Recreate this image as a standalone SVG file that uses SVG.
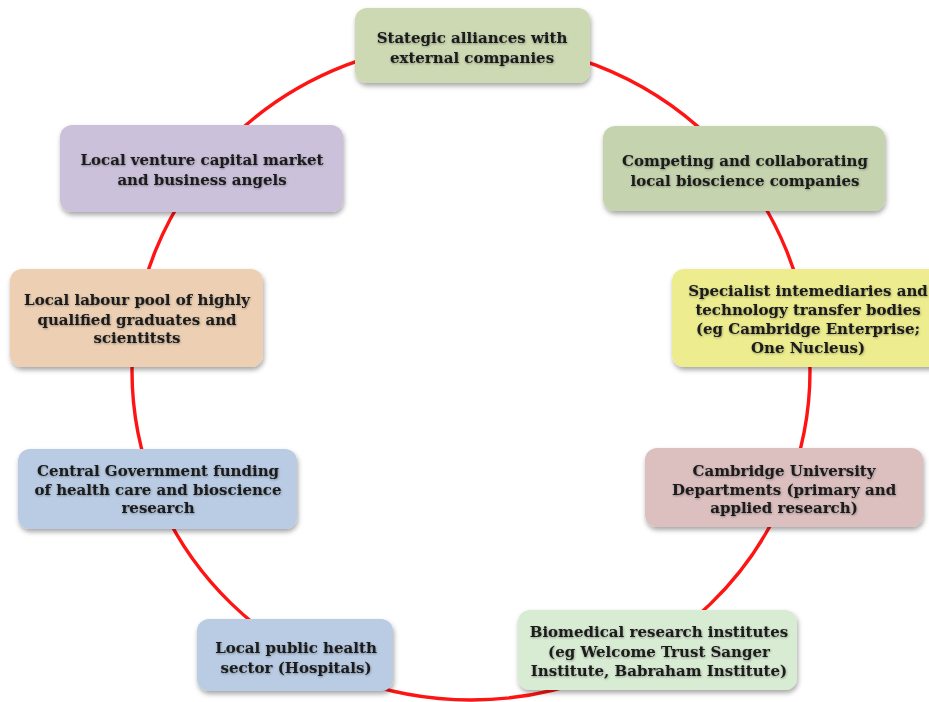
<svg xmlns="http://www.w3.org/2000/svg" width="929" height="702" viewBox="0 0 929 702">
<defs>
<filter id="sh" x="-10%" y="-10%" width="120%" height="130%">
<feDropShadow dx="1" dy="3" stdDeviation="2.5" flood-color="#000" flood-opacity="0.35"/>
</filter>
<filter id="ts" x="-5%" y="-20%" width="110%" height="140%">
<feDropShadow dx="0.5" dy="1" stdDeviation="0.8" flood-color="#000" flood-opacity="0.35"/>
</filter>
</defs>
<style>
.box{stroke:none;filter:url(#sh)}
.t{font-family:"DejaVu Serif","Liberation Serif",serif;font-weight:bold;font-size:15px;fill:#1a1a1a;text-anchor:middle;filter:url(#ts)}
.ring{fill:none;stroke:#ff1414;stroke-width:3.4}
</style>
<rect width="929" height="702" fill="#fff"/>
<g id="connectors">
<ellipse class="ring" cx="471" cy="371" rx="339" ry="329"/>
</g>
<g id="n1">
<rect class="box" x="355" y="8" width="235" height="75" rx="12" fill="#ccd9b3"/>
<text class="t" x="472" y="43">Stategic alliances with</text>
<text class="t" x="472" y="63">external companies</text>
</g>
<g id="n2">
<rect class="box" x="60" y="125" width="283" height="87" rx="12" fill="#ccc1db"/>
<text class="t" x="202" y="165">Local venture capital market</text>
<text class="t" x="202" y="185">and business angels</text>
</g>
<g id="n3">
<rect class="box" x="603" y="126" width="282" height="85" rx="12" fill="#c5d4ae"/>
<text class="t" x="745" y="166">Competing and collaborating</text>
<text class="t" x="745" y="186">local bioscience companies</text>
</g>
<g id="n4">
<rect class="box" x="10" y="269" width="253" height="98" rx="12" fill="#edd0b4"/>
<text class="t" x="137" y="305">Local labour pool of highly</text>
<text class="t" x="137" y="325">qualified graduates and</text>
<text class="t" x="137" y="343">scientitsts</text>
</g>
<g id="n5">
<rect class="box" x="672" y="269" width="272" height="98" rx="12" fill="#eded90"/>
<text class="t" x="808" y="296">Specialist intemediaries and</text>
<text class="t" x="808" y="315">technology transfer bodies</text>
<text class="t" x="808" y="334">(eg Cambridge Enterprise;</text>
<text class="t" x="808" y="353">One Nucleus)</text>
</g>
<g id="n6">
<rect class="box" x="18" y="449" width="279" height="80" rx="12" fill="#b9cce4"/>
<text class="t" x="158" y="476">Central Government funding</text>
<text class="t" x="158" y="495">of health care and bioscience</text>
<text class="t" x="158" y="513">research</text>
</g>
<g id="n7">
<rect class="box" x="645" y="448" width="278" height="79" rx="12" fill="#dcc0c0"/>
<text class="t" x="784" y="476">Cambridge University</text>
<text class="t" x="784" y="495">Departments (primary and</text>
<text class="t" x="784" y="513">applied research)</text>
</g>
<g id="n8">
<rect class="box" x="197" y="619" width="196" height="72" rx="12" fill="#b9cce4"/>
<text class="t" x="296" y="653">Local public health</text>
<text class="t" x="296" y="673">sector (Hospitals)</text>
</g>
<g id="n9">
<rect class="box" x="518" y="610" width="279" height="80" rx="12" fill="#d8ebd3"/>
<text class="t" x="659" y="637">Biomedical research institutes</text>
<text class="t" x="659" y="657">(eg Welcome Trust Sanger</text>
<text class="t" x="659" y="676">Institute, Babraham Institute)</text>
</g>
</svg>
